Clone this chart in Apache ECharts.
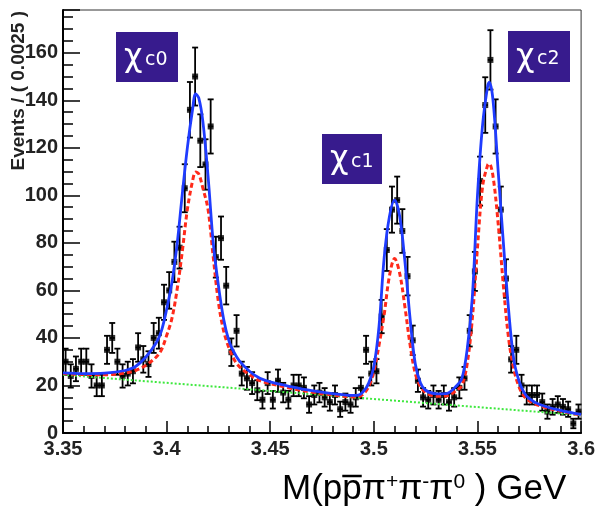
<!DOCTYPE html>
<html>
<head>
<meta charset="utf-8">
<script src="https://cdn.jsdelivr.net/npm/echarts@6.0.0/dist/echarts.min.js"></script>
<style>
html,body{margin:0;padding:0;background:#fff;}
#c{width:598px;height:515px;}
</style>
</head>
<body>
<div id="c"></div>
<script>
// ---- histogram binning ----
const binStart = 3.35;
const binWidth = 0.0025;

// ---- events per bin ----
const counts = [
  30, 24, 27, 30, 30, 24, 20, 20, 35, 40,
  30, 24, 25, 26, 36, 31, 29, 40, 42, 55,
  60, 72, 78, 103, 136, 150, 123, 113, 129, 74,
  82, 62, 34, 43, 25, 23, 21, 18, 14, 21,
  14, 22, 17, 14, 20, 20, 19, 12, 16, 17,
  15, 13, 16, 10, 13, 12, 15, 19, 35, 25,
  26, 49, 77, 94, 98, 85, 66, 39, 22, 15,
  14, 16, 14, 16, 13, 15, 19, 23, 43, 68,
  106, 138, 157, 129, 94, 65, 31, 35, 20, 16,
  16, 16, 13, 9, 11, 12, 11, 10, 4, 9
];

// ---- error bar half-lengths ----
const errors = [
  5.5, 4.9, 5.2, 5.5, 5.5, 4.9, 4.5, 4.5, 5.9, 6.3,
  5.5, 4.9, 5.0, 5.1, 6.0, 5.6, 5.4, 6.3, 6.5, 7.4,
  7.7, 8.5, 8.8, 10.1, 11.7, 12.2, 11.1, 10.6, 11.4, 8.6,
  9.1, 7.9, 5.8, 6.6, 5.0, 4.8, 4.6, 4.2, 3.7, 4.6,
  3.7, 4.7, 4.1, 3.7, 4.5, 4.5, 4.4, 3.5, 4.0, 4.1,
  3.9, 3.6, 4.0, 3.2, 3.6, 3.5, 3.9, 4.4, 5.9, 5.0,
  5.1, 7.0, 8.8, 9.7, 9.9, 9.2, 8.1, 6.2, 4.7, 3.9,
  3.7, 4.0, 3.7, 4.0, 3.6, 3.9, 4.4, 4.8, 6.6, 8.2,
  10.3, 11.7, 12.5, 11.4, 9.7, 8.1, 5.6, 5.9, 4.5, 4.0,
  4.0, 4.0, 3.6, 3.0, 3.3, 3.5, 3.3, 3.2, 2.0, 3.0
];

// ---- fit curves ----
const curveX = [
  3.350, 3.360, 3.370, 3.380, 3.385, 3.390, 3.395, 3.3975, 3.400, 3.4025,
  3.405, 3.4075, 3.410, 3.4125, 3.414, 3.4155, 3.4175, 3.420, 3.4225, 3.425,
  3.4275, 3.430, 3.4325, 3.435, 3.440, 3.445, 3.450, 3.460, 3.470, 3.480,
  3.490, 3.4925, 3.495, 3.4975, 3.500, 3.5025, 3.505, 3.5075, 3.510, 3.5125,
  3.515, 3.5175, 3.520, 3.5225, 3.525, 3.530, 3.535, 3.540, 3.5425, 3.545,
  3.5475, 3.550, 3.5525, 3.555, 3.5557, 3.5575, 3.560, 3.5625, 3.565, 3.5675,
  3.570, 3.5725, 3.575, 3.580, 3.590, 3.600
];
const totalFit = [
  25.3, 25.0, 25.2, 26.3, 28, 32, 38, 43, 52, 63,
  79, 100, 120, 136, 142.7, 141, 131, 108, 80, 62,
  48, 39, 34, 30.5, 26, 23, 21.5, 19.5, 17.8, 16.6,
  15.8, 15.9, 17.5, 21, 28, 45, 74, 91, 98, 91,
  72, 48, 29, 21, 18, 16.5, 16.6, 20, 23, 35,
  57, 100, 130, 146.5, 147.6, 140, 110, 80, 52, 31,
  22, 17, 14.5, 12, 9.5, 7.8
];
const dashedFit = [
  25.0, 24.6, 24.5, 25.2, 26.3, 28.5, 32, 35, 41, 48,
  60, 76, 94, 106, 109.8, 109, 103, 94, 74, 55,
  43, 36, 31, 28, 24.5, 22, 20.8, 18.8, 17.2, 16.0,
  15.2, 15.3, 16.5, 19.5, 26, 37, 50, 66, 73.4, 67,
  53, 37, 25, 19.5, 17, 15.5, 15.6, 18, 20, 29,
  48, 78, 104, 113, 113.3, 108, 88, 62, 40, 27,
  19.5, 15.5, 13.5, 11.5, 9.2, 7.6
];
const bgX = [3.35, 3.60];
const bgY = [24.5, 7.5];

// ---- axis tick labels ----
const xTickLabels = ['3.35', '3.4', '3.45', '3.5', '3.55', '3.6'];
const yTickLabels = ['0', '20', '40', '60', '80', '100', '120', '140', '160'];
const peakSubs = ['c0', 'c1', 'c2'];

// ---------------------------------------------------------------
const binCenters = counts.map((_, i) => +(binStart + (i + 0.5) * binWidth).toFixed(6));
const pointData = counts.map((c, i) => [binCenters[i], c]);
const errData = counts.map((c, i) => [binCenters[i], c, errors[i]]);
const fitData = curveX.map((x, i) => [x, totalFit[i]]);
const dashData = curveX.map((x, i) => [x, dashedFit[i]]);
const bgData = bgX.map((x, i) => [x, bgY[i]]);

const labelFont = 'Liberation Sans';

function xLabel(v) {
  const s = String(Number(v.toFixed(3)));
  return xTickLabels.indexOf(s) >= 0 ? s : '';
}
function yLabel(v) {
  const s = String(Math.round(v));
  return (Math.abs(v - Math.round(v)) < 1e-6 && yTickLabels.indexOf(s) >= 0) ? s : '';
}

// measure for the overline in the axis title
const titleSize = 35;
const mctx = document.createElement('canvas').getContext('2d');
mctx.font = titleSize + 'px "' + labelFont + '"';
const preW = mctx.measureText('M(p').width;
const pW = mctx.measureText('p').width;
const titleX = 282, titleY = 472;

const boxColor = '#371b8d';
const boxes = [
  {x: 116, y: 32, w: 62, h: 50},
  {x: 322, y: 134, w: 60, h: 50},
  {x: 508, y: 31, w: 62, h: 51}
];
const peakGraphics = [];
boxes.forEach((b, k) => {
  peakGraphics.push({type: 'rect', shape: {x: b.x, y: b.y, width: b.w, height: b.h}, style: {fill: boxColor}, z: 100});
  peakGraphics.push({type: 'text', x: b.x + 8, y: b.y + b.h / 2 + 1, z: 101,
    style: {text: 'χ', font: '32px "DejaVu Sans"', fill: '#fff', align: 'left', verticalAlign: 'middle'}});
  peakGraphics.push({type: 'text', x: b.x + 29, y: b.y + b.h / 2 + 3, z: 101,
    style: {text: peakSubs[k], font: '19px "DejaVu Sans"', fill: '#fff', align: 'left', verticalAlign: 'middle'}});
});

const chart = echarts.init(document.getElementById('c'), null, {renderer: 'canvas'});
const option = {
  animation: false,
  backgroundColor: '#fff',
  grid: {left: 63, right: 15, top: 10, bottom: 82, show: true, borderColor: '#333', borderWidth: 1, backgroundColor: 'transparent'},
  xAxis: {
    type: 'value', min: 3.35, max: 3.6, interval: 0.05,
    axisLine: {lineStyle: {color: '#000', width: 2}},
    axisTick: {inside: true, length: 12, lineStyle: {color: '#000', width: 1.5}},
    minorTick: {show: true, splitNumber: 5, length: 7, lineStyle: {color: '#000', width: 1.5}},
    splitLine: {show: false},
    axisLabel: {margin: 6, fontFamily: labelFont, fontWeight: 'bold', fontSize: 20, color: '#222', formatter: xLabel,
      showMinLabel: true, showMaxLabel: true}
  },
  yAxis: [
    {
      type: 'value', min: 0, max: 178, interval: 20,
      axisLine: {lineStyle: {color: '#000', width: 2}},
      axisTick: {inside: true, length: 17, lineStyle: {color: '#000', width: 1.5}},
      splitLine: {show: false},
      axisLabel: {margin: 5, fontFamily: labelFont, fontWeight: 'bold', fontSize: 20, color: '#222', formatter: yLabel}
    },
    {
      type: 'value', min: 0, max: 178, interval: 5, position: 'left', offset: 0,
      axisLine: {show: false},
      axisTick: {inside: true, length: 10, lineStyle: {color: '#000', width: 1.5}},
      axisLabel: {show: false},
      splitLine: {show: false}
    }
  ],
  series: [
    {
      type: 'custom', name: 'errors', data: errData, z: 2, clip: true,
      encode: {x: 0, y: 1},
      renderItem: function (params, api) {
        const x = api.value(0), y = api.value(1), e = api.value(2);
        const lo = api.coord([x, y - e]);
        const hi = api.coord([x, y + e]);
        const l = api.coord([x - binWidth / 2, y]);
        const r = api.coord([x + binWidth / 2, y]);
        const cap = 3;
        const st = {stroke: '#000', lineWidth: 1.8};
        return {type: 'group', children: [
          {type: 'line', shape: {x1: lo[0], y1: lo[1], x2: hi[0], y2: hi[1]}, style: st},
          {type: 'line', shape: {x1: lo[0] - cap, y1: lo[1], x2: lo[0] + cap, y2: lo[1]}, style: st},
          {type: 'line', shape: {x1: hi[0] - cap, y1: hi[1], x2: hi[0] + cap, y2: hi[1]}, style: st},
          {type: 'line', shape: {x1: l[0], y1: l[1], x2: r[0], y2: r[1]}, style: st}
        ]};
      }
    },
    {
      type: 'scatter', name: 'data', data: pointData, z: 3,
      symbol: 'rect', symbolSize: 6, itemStyle: {color: '#000'}
    },
    {
      type: 'line', name: 'background', data: bgData, z: 4, showSymbol: false, symbol: 'none',
      lineStyle: {color: '#3ee83e', width: 2, type: [2, 2]}
    },
    {
      type: 'line', name: 'signal', data: dashData, z: 5, showSymbol: false, symbol: 'none', smooth: 0.35,
      lineStyle: {color: '#ff2a1a', width: 3, type: [5, 3]}
    },
    {
      type: 'line', name: 'total', data: fitData, z: 6, showSymbol: false, symbol: 'none', smooth: 0.35,
      lineStyle: {color: '#1f3cff', width: 2.8}
    }
  ],
  graphic: [
    {type: 'text', x: 19, y: 11, rotation: Math.PI / 2, z: 50,
      style: {text: 'Events / ( 0.0025 )', font: 'bold 19px "' + labelFont + '"', fill: '#222', align: 'right', verticalAlign: 'middle'}},
    {type: 'text', x: titleX, y: titleY, z: 50,
      style: {
        text: 'M(p{ov|p}π{sup|+}π{sup|-}π{sup|0} ) GeV',
        font: titleSize + 'px "' + labelFont + '"', fill: '#000', align: 'left', verticalAlign: 'top',
        rich: {
          ov: {fontSize: titleSize, fontFamily: labelFont, fill: '#000'},
          sup: {fontSize: 21, fontFamily: labelFont, fill: '#000', verticalAlign: 'top'}
        }
      }},
    {type: 'line', z: 50, shape: {x1: titleX + preW, y1: titleY + 4, x2: titleX + preW + pW, y2: titleY + 4},
      style: {stroke: '#000', lineWidth: 2.5}}
  ].concat(peakGraphics)
};
chart.setOption(option);
</script>
</body>
</html>
